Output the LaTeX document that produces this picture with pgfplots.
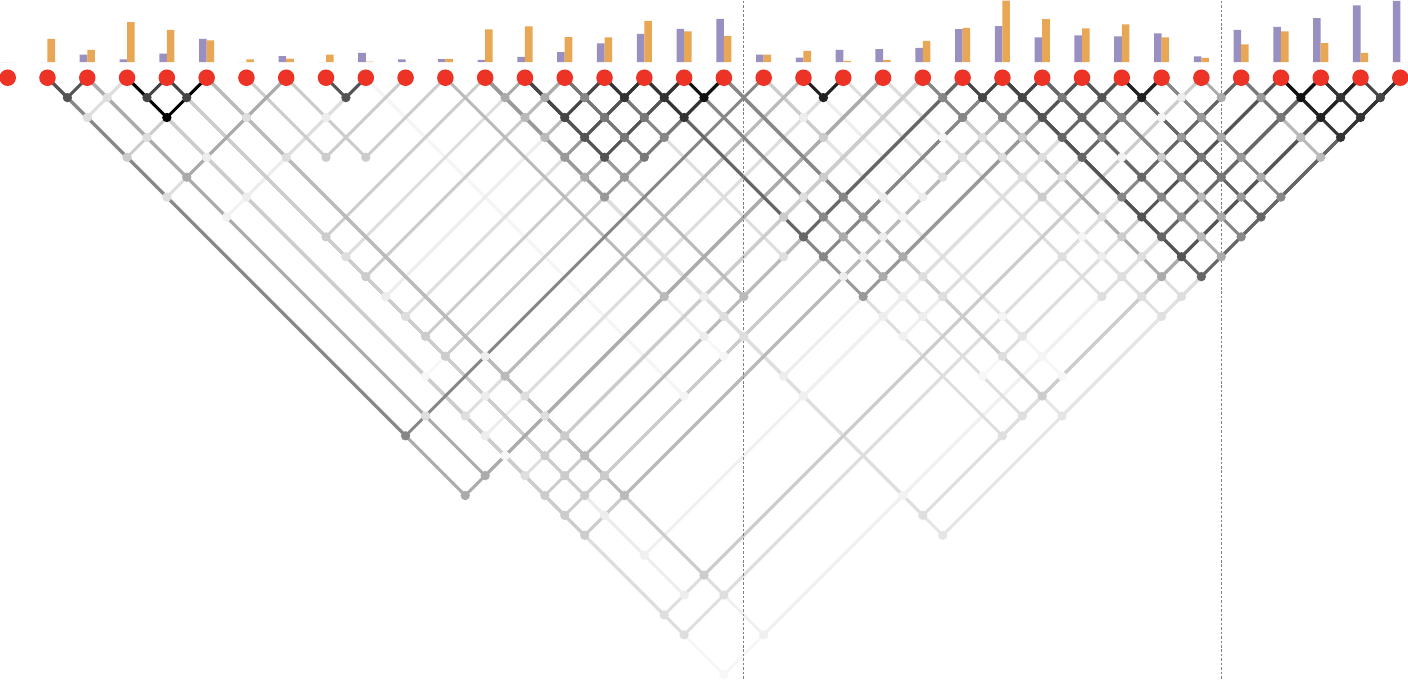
\documentclass[border=0pt]{standalone}
\usepackage{pgfplots}
\usepackage{pgfplotstable}
\pgfplotsset{compat=1.18}
\definecolor{nodered}{RGB}{236,51,37}
\definecolor{barpurple}{RGB}{154,143,193}
\definecolor{barorange}{RGB}{232,167,84}

% bar heights (normalised, 1 = tallest)
\pgfplotstableread{
n p o
0 0 0
1 0 0.379
2 0.125 0.200
3 0.044 0.650
4 0.141 0.525
5 0.379 0.353
6 0 0.044
7 0.098 0.060
8 0 0.125
9 0.151 0.011
10 0.044 0
11 0.049 0.054
12 0.037 0.532
13 0.086 0.580
14 0.163 0.407
15 0.304 0.402
16 0.460 0.672
17 0.541 0.499
18 0.704 0.423
19 0.125 0.125
20 0.076 0.184
21 0.200 0.021
22 0.211 0.037
23 0.233 0.346
24 0.537 0.558
25 0.585 1.000
26 0.402 0.699
27 0.434 0.548
28 0.418 0.613
29 0.467 0.402
30 0.093 0.070
31 0.525 0.288
32 0.574 0.499
33 0.715 0.309
34 0.922 0.151
35 0.997 0
}\bardata

% pairs: i, j, darkness (percent black), drawn light to dark
\newcommand{\pairlist}{%
\LD{11}{25}{3}\LD{3}{22}{3}\LD{3}{18}{3}\LD{3}{33}{3}\LD{17}{32}{3}\LD{19}{34}{3}%
\LD{28}{30}{4}\LD{22}{25}{4}\LD{23}{31}{4}\LD{9}{25}{4}\LD{19}{31}{4}\LD{19}{33}{4}%
\LD{2}{9}{5}\LD{19}{26}{5}\LD{26}{30}{5}\LD{12}{33}{5}%
\LD{16}{29}{6}\LD{12}{28}{6}\LD{4}{28}{6}\LD{5}{33}{6}%
\LD{3}{7}{7}\LD{3}{9}{7}\LD{7}{9}{7}\LD{19}{21}{7}\LD{19}{25}{7}\LD{20}{26}{7}\LD{18}{26}{7}\LD{17}{26}{7}\LD{29}{30}{7}\LD{23}{32}{7}\LD{16}{26}{7}\LD{17}{28}{7}\LD{16}{28}{7}\LD{17}{29}{7}\LD{12}{27}{7}\LD{12}{23}{7}\LD{11}{24}{7}\LD{5}{19}{7}\LD{4}{20}{7}\LD{3}{21}{7}\LD{4}{15}{7}\LD{4}{26}{7}\LD{4}{30}{7}%
\LD{19}{32}{10}\LD{18}{35}{10}\LD{12}{35}{10}%
\LD{23}{35}{12}%
\LD{2}{3}{13}\LD{1}{3}{13}\LD{2}{5}{13}\LD{1}{7}{13}\LD{5}{7}{13}\LD{5}{9}{13}\LD{4}{13}{13}\LD{4}{16}{13}\LD{17}{23}{13}\LD{15}{24}{13}\LD{23}{26}{13}\LD{22}{26}{13}\LD{23}{27}{13}\LD{24}{28}{13}\LD{21}{26}{13}\LD{23}{28}{13}\LD{24}{29}{13}\LD{24}{31}{13}\LD{22}{31}{13}\LD{24}{33}{13}\LD{23}{33}{13}\LD{18}{29}{13}\LD{22}{33}{13}\LD{23}{34}{13}\LD{24}{35}{13}\LD{18}{32}{13}\LD{17}{34}{13}\LD{16}{34}{13}\LD{18}{28}{13}\LD{12}{25}{13}\LD{12}{24}{13}\LD{5}{21}{13}\LD{5}{22}{13}\LD{3}{20}{13}\LD{2}{19}{13}\LD{3}{23}{13}\LD{3}{30}{13}\LD{5}{31}{13}\LD{3}{31}{13}\LD{12}{34}{13}%
\LD{1}{5}{20}\LD{6}{10}{20}\LD{7}{11}{20}\LD{4}{12}{20}\LD{19}{22}{20}\LD{18}{23}{20}\LD{16}{23}{20}\LD{24}{27}{20}\LD{27}{31}{20}\LD{23}{29}{20}\LD{24}{32}{20}\LD{18}{34}{20}\LD{5}{23}{20}\LD{4}{23}{20}\LD{4}{14}{20}\LD{4}{17}{20}\LD{4}{18}{20}\LD{4}{24}{20}\LD{5}{25}{20}\LD{3}{24}{20}\LD{4}{25}{20}\LD{3}{25}{20}\LD{3}{26}{20}\LD{5}{30}{20}%
\LD{12}{14}{27}\LD{12}{15}{27}\LD{31}{34}{27}\LD{31}{35}{27}\LD{27}{33}{27}\LD{26}{34}{27}\LD{13}{24}{27}\LD{11}{22}{27}\LD{5}{20}{27}\LD{5}{24}{27}\LD{5}{26}{27}%
\LD{2}{7}{33}\LD{12}{13}{33}\LD{13}{14}{33}\LD{12}{17}{33}\LD{17}{25}{33}\LD{18}{27}{33}\LD{30}{31}{33}\LD{29}{32}{33}\LD{29}{34}{33}\LD{27}{34}{33}\LD{26}{35}{33}\LD{24}{34}{33}\LD{17}{27}{33}\LD{2}{22}{33}\LD{1}{22}{33}%
\LD{12}{16}{40}\LD{13}{18}{40}\LD{12}{18}{40}\LD{18}{25}{40}\LD{31}{32}{40}\LD{29}{31}{40}\LD{26}{29}{40}\LD{28}{31}{40}\LD{29}{33}{40}\LD{28}{34}{40}\LD{26}{33}{40}\LD{16}{27}{40}%
\LD{14}{15}{47}\LD{15}{18}{47}\LD{18}{24}{47}\LD{17}{24}{47}\LD{16}{25}{47}\LD{23}{24}{47}\LD{23}{25}{47}\LD{24}{26}{47}\LD{27}{29}{47}\LD{27}{32}{47}\LD{25}{31}{47}\LD{26}{32}{47}\LD{29}{35}{47}\LD{27}{35}{47}\LD{1}{19}{47}%
\LD{14}{16}{53}\LD{15}{17}{53}\LD{14}{17}{53}\LD{14}{18}{53}\LD{26}{27}{53}\LD{31}{33}{53}\LD{28}{32}{53}\LD{28}{33}{53}%
\LD{16}{24}{60}\LD{26}{28}{60}\LD{25}{28}{60}\LD{25}{29}{60}\LD{26}{31}{60}\LD{28}{35}{60}\LD{25}{33}{60}\LD{25}{35}{60}%
\LD{1}{2}{67}\LD{8}{9}{67}\LD{13}{16}{67}\LD{13}{17}{67}\LD{27}{28}{67}\LD{25}{27}{67}\LD{25}{32}{67}\LD{25}{34}{67}%
\LD{3}{4}{73}\LD{4}{5}{73}\LD{13}{15}{73}\LD{24}{25}{73}\LD{25}{26}{73}\LD{34}{35}{73}%
\LD{15}{16}{80}\LD{16}{17}{80}\LD{16}{18}{80}\LD{33}{34}{80}\LD{33}{35}{80}\LD{32}{35}{80}%
\LD{20}{21}{87}\LD{28}{29}{87}\LD{32}{34}{87}%
\LD{17}{18}{93}\LD{32}{33}{93}%
\LD{3}{5}{100}%
}

\newcommand{\LDline}[3]{%
  \pgfmathsetmacro\vx{(#1+#2)/2}%
  \pgfmathsetmacro\vy{-(#2-#1)/2}%
  \edef\tmp{\noexpand\addplot[black!#3, line width=1.05pt, line join=round] coordinates {(#1,0) (\vx,\vy) (#2,0)};}%
  \tmp}
\newcommand{\LDdot}[3]{%
  \pgfmathsetmacro\vx{(#1+#2)/2}%
  \pgfmathsetmacro\vy{-(#2-#1)/2}%
  \edef\tmp{\noexpand\addplot[only marks, mark=*, mark size=1.45pt, black!#3] coordinates {(\vx,\vy)};}%
  \tmp}

\begin{document}
\begin{tikzpicture}
\begin{axis}[name=main, scale only axis, width=17.7135cm, height=8.5425cm,
  xmin=-0.2013, xmax=35.226, ymin=-15.147, ymax=1.9375, hide axis, clip=false]
\let\LD\LDline
\pairlist
\addplot[gray, line width=0.45pt, dash pattern=on 0.9pt off 0.7pt] coordinates {(18.5,1.9375) (18.5,-15.147)};
\addplot[gray, line width=0.45pt, dash pattern=on 0.9pt off 0.7pt] coordinates {(30.5,1.9375) (30.5,-15.147)};
\let\LD\LDdot
\pairlist
\addplot[only marks, mark=*, mark size=2.75pt, nodered] coordinates {
(0,0) (1,0) (2,0) (3,0) (4,0) (5,0) (6,0) (7,0) (8,0) (9,0) (10,0) (11,0)
(12,0) (13,0) (14,0) (15,0) (16,0) (17,0) (18,0) (19,0) (20,0) (21,0) (22,0) (23,0)
(24,0) (25,0) (26,0) (27,0) (28,0) (29,0) (30,0) (31,0) (32,0) (33,0) (34,0) (35,0)};
\end{axis}
\begin{axis}[at={(main.north west)}, anchor=north west, scale only axis,
  width=17.7135cm, height=0.77375cm, xmin=-0.2013, xmax=35.226, ymin=0, ymax=1,
  hide axis, clip=false]
\addplot[ybar, bar width=0.19, bar shift=-0.095, fill=barpurple, draw=none] table[x=n, y=p] {\bardata};
\addplot[ybar, bar width=0.19, bar shift=0.095, fill=barorange, draw=none] table[x=n, y=o] {\bardata};
\end{axis}
\end{tikzpicture}
\end{document}
